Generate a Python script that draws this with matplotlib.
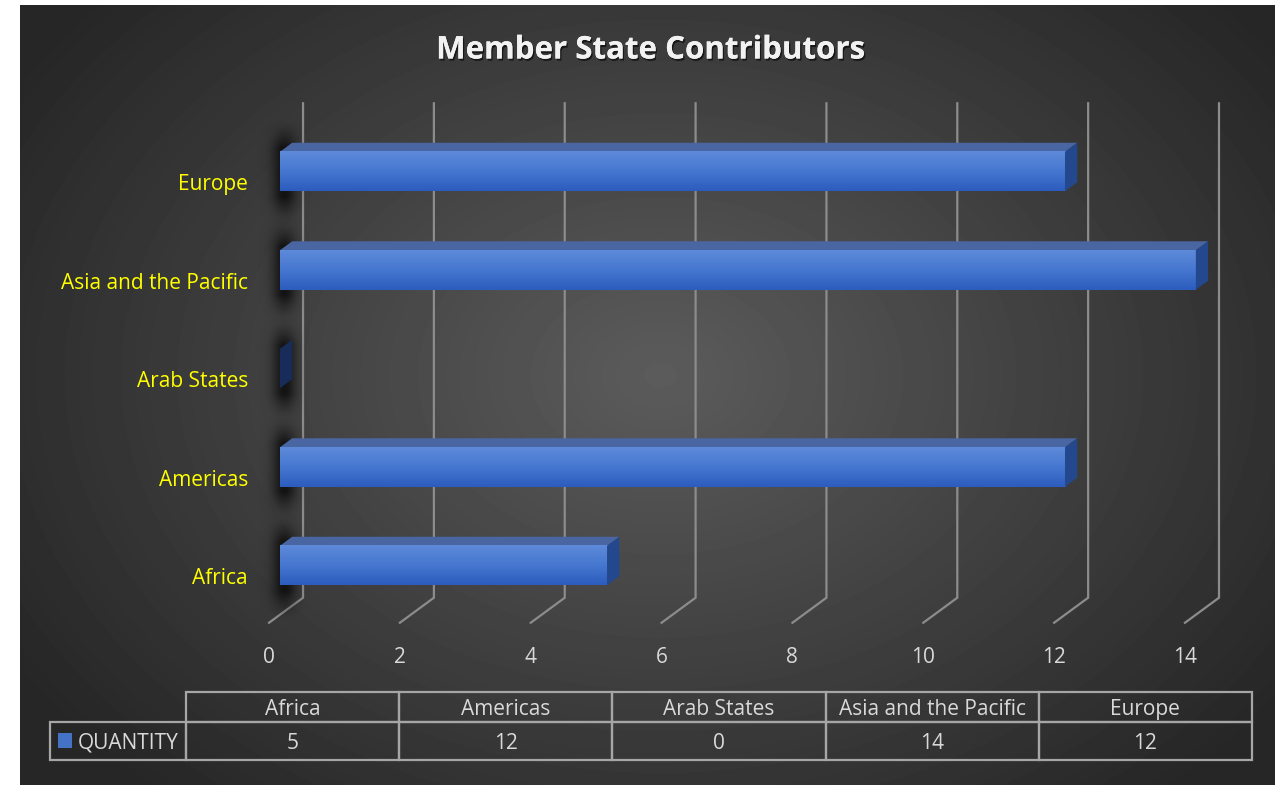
import numpy as np
import matplotlib
matplotlib.use('Agg')
import matplotlib.pyplot as plt
from matplotlib.patches import Polygon, Rectangle
from matplotlib.colors import LinearSegmentedColormap
import matplotlib.patheffects as pe


# Chart data
categories = ['Africa', 'Americas', 'Arab States', 'Asia and the Pacific', 'Europe']
quantity = [5, 12, 0, 14, 12]
series_name = 'QUANTITY'
x_ticks = [0, 2, 4, 6, 8, 10, 12, 14]
title = 'Member State Contributors'

# Layout consts (pixels / data units)
W, H = 1275, 785
DX, DY = 0.52, 0.254      # depth vector of the 3d box, data units
T0, T1 = 0.32, 0.68       # bar sits between these depth fractions
BAR_H = 0.4
FLOOR, TOP = -0.5, 4.52

plt.rcParams['font.family'] = ['Open Sans', 'DejaVu Sans']

fig = plt.figure(figsize=(W / 100, H / 100), dpi=100, facecolor='white')

# dark radial background panel
bg = fig.add_axes([20 / W, 0, 1 - 20 / W, 1 - 5 / H])
bg.set_axis_off()
yy, xx = np.mgrid[0:780, 0:1255]
r = np.sqrt(((xx - 640) / 760.0) ** 2 + ((yy - 370) / 560.0) ** 2)
shade = 0.36 - 0.21 * np.clip(r, 0, 1)
bg.imshow(shade, cmap='gray', vmin=0, vmax=1, aspect='auto',
          extent=[0, 1, 0, 1], interpolation='bilinear')
bg.set_xlim(0, 1)
bg.set_ylim(0, 1)

# main plot area
ax = fig.add_axes([203.6 / W, (785 - 672) / H, 1046.8 / W, 591 / H])
ax.set_axis_off()

# gridlines on back wall + floor
for v in x_ticks:
    ax.plot([v, v + DX, v + DX], [FLOOR, FLOOR + DY, TOP + DY],
            color='#8c8c8c', lw=1.6, zorder=1, solid_joinstyle='miter')

# soft shadows left of the bars
sx = np.linspace(-1, 1, 80)
sy = np.linspace(-1, 1, 140)
SX, SY = np.meshgrid(sx, sy)
alpha = 0.7 * np.exp(-(SX / 0.4) ** 2) * np.clip((1 - np.abs(SY)) / 0.55, 0, 1) ** 1.5
shadow = np.zeros((140, 80, 4))
shadow[..., 3] = alpha
for i in range(len(categories)):
    cx = 0.24
    ax.imshow(shadow, extent=[cx - 0.45, cx + 0.45, i - 0.48, i + 0.62],
              aspect='auto', zorder=2, interpolation='bilinear')

face_cmap = LinearSegmentedColormap.from_list('face', ['#2c5cbd', '#4677d0', '#5d8ad9'])
grad = np.linspace(0, 1, 64).reshape(-1, 1)

for i, v in enumerate(quantity):
    x0f, x1f = T0 * DX, v + T0 * DX
    x0b, x1b = T1 * DX, v + T1 * DX
    ybf, ytf = i - BAR_H / 2 + T0 * DY, i + BAR_H / 2 + T0 * DY
    ybb, ytb = i - BAR_H / 2 + T1 * DY, i + BAR_H / 2 + T1 * DY
    if v > 0:
        top = Polygon([(x0f, ytf), (x1f, ytf), (x1b, ytb), (x0b, ytb)],
                      closed=True, facecolor='#4a66a2', edgecolor='none', zorder=3)
        ax.add_patch(top)
        ax.imshow(grad, cmap=face_cmap, origin='lower', aspect='auto',
                  extent=[x0f, x1f, ybf, ytf], zorder=4, interpolation='bilinear')
        end_col = '#24488d'
    else:
        end_col = '#172c58'
    end = Polygon([(x1f, ybf), (x1f, ytf), (x1b, ytb), (x1b, ybb)],
                  closed=True, facecolor=end_col, edgecolor='none', zorder=4)
    ax.add_patch(end)

# category labels
for i, c in enumerate(categories):
    ax.text(-0.32, i - 0.03, c, ha='right', va='center_baseline', color='#ffff00', fontsize=15)

# value axis labels
for v in x_ticks:
    ax.text(v, -0.83, str(v), ha='center', va='center_baseline', color='#d9d9d9', fontsize=15)

ax.set_xlim(-1, 15)
ax.set_ylim(-1, 5)

fig.text(651 / W, 1 - 47 / H, title, ha='center', va='center_baseline', fontsize=22.5,
         fontweight='bold', color='#f2f2f2',
         path_effects=[pe.withSimplePatchShadow(offset=(1, -1.5), shadow_rgbFace='black', alpha=0.6),
                       pe.Normal()])

# data table
tax = fig.add_axes([50 / W, 25 / H, 1202 / W, 68 / H])
tax.set_axis_off()
cell_text = [[''] + [str(q) for q in quantity]]
col_labels = [''] + categories
tbl = tax.table(cellText=cell_text, colLabels=col_labels, cellLoc='center',
                bbox=[0, 0, 1, 1])
tbl.auto_set_font_size(False)
tbl.set_fontsize(15)
widths = [136] + [213.2] * 5
for (row, col), cell in tbl.get_celld().items():
    cell.set_width(widths[col] / 1202)
    cell.set_height((30 if row == 0 else 38) / 68)
    cell.set_facecolor('none')
    cell.set_edgecolor('#a6a6a6')
    cell.set_linewidth(1.6)
    cell.get_text().set_color('#d9d9d9')
    cell.get_text().set_va('center_baseline')
tbl[(0, 0)].visible_edges = 'open'

tax.add_patch(Rectangle((8 / 1202, 12 / 68), 14 / 1202, 15 / 68,
                        facecolor='#4472c4', edgecolor='none', transform=tax.transAxes))
tax.text(28 / 1202, 19 / 68, series_name, ha='left', va='center_baseline',
         color='#d9d9d9', fontsize=15, transform=tax.transAxes)

fig.savefig('out.png', dpi=100, facecolor=fig.get_facecolor())
